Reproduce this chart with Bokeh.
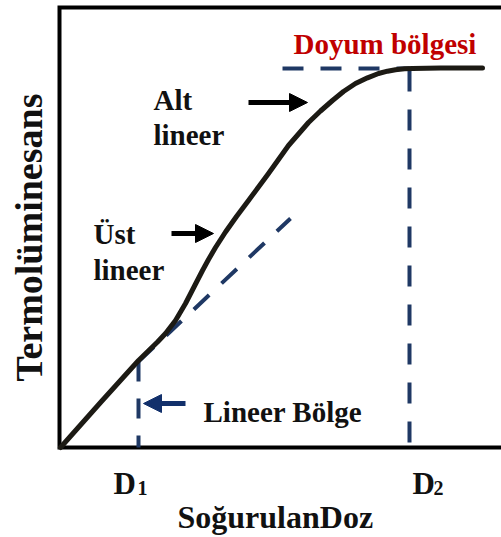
import numpy as np
from bokeh.plotting import figure
from bokeh.models import Range1d, Arrow, NormalHead
from bokeh.core.properties import value
from bokeh.embed import file_html
from bokeh.resources import INLINE

# Thermoluminescence response versus absorbed dose (arbitrary units)
dose = [0.0, 4.0, 7.8, 8.8, 9.7, 10.5, 11.5, 12.5, 13.4, 14.2, 14.8, 15.5,
        16.5, 17.6, 18.8, 19.8, 20.8, 21.8, 22.8, 23.8, 24.8, 26.0, 27.2,
        28.3, 29.5, 30.7, 31.8, 32.7, 33.5, 34.4, 35.2, 38.0, 42.2]
tl = [0.0, 4.5, 8.7, 9.68, 10.55, 11.4, 12.7, 14.4, 16.15, 17.7, 18.8,
      20.0, 21.55, 23.1, 24.7, 26.05, 27.4, 28.8, 30.2, 31.35, 32.5, 33.65,
      34.7, 35.6, 36.4, 36.97, 37.4, 37.63, 37.78, 37.87, 37.91, 37.95,
      37.95]

# Characteristic doses and response levels
d1 = 7.8
d2 = 34.9
tl_d1 = 8.6
tl_sat = 37.9

# Extrapolated linear response and saturation reference
linear_ext_dose = [7.8, 23.0]
linear_ext_tl = [8.6, 22.9]
sat_ref_dose = [22.2, 34.9]

SERIF = value("Liberation Serif")
NAVY = "#1F3864"
INK = "#111111"

p = figure(width=501, height=537, x_range=Range1d(-6.0, 44.1),
           y_range=Range1d(-9.0, 44.7), min_border=0,
           toolbar_location=None, output_backend="svg")
p.axis.visible = False
p.grid.visible = False
p.outline_line_color = None
p.background_fill_color = "white"

# Open frame: top, left and bottom edges
p.line([44.3, -0.1, -0.1, 44.3], [44.0, 44.0, 0.0, 0.0],
       line_width=4, line_color="black", line_join="miter")

# Reference dashed lines
p.line(linear_ext_dose, linear_ext_tl, line_width=4, line_color=NAVY,
       line_dash="21 17")
p.line([d1, d1], [tl_d1, 0.0], line_width=4, line_color=NAVY,
       line_dash="20 17")
p.line(sat_ref_dose, [tl_sat, tl_sat], line_width=4, line_color=NAVY,
       line_dash="21 17")
p.line([d2, d2], [tl_sat - 0.2, 0.0], line_width=4, line_color=NAVY,
       line_dash="21 18")

# Dose-response curve
p.line(dose, tl, line_width=5, line_color="#1c1a14", line_join="round",
       line_cap="round")

bold = dict(text_font=SERIF, text_font_style="bold",
            text_baseline="alphabetic", text_align="left")

# Region annotations
p.text(x=[23.3], y=[40.4], text=["Doyum bölgesi"], text_color="#C00000",
       text_font_size="29px", **bold)
p.text(x=[9.3, 9.3, 3.3, 3.3, 14.3], y=[34.8, 31.3, 21.4, 17.8, 3.6],
       text=["Alt", "lineer", "Üst", "lineer", "Lineer Bölge"],
       text_color=INK, text_font_size="29px", **bold)

# Dose markers with subscripts
p.text(x=[d1 - 2.5, d2 + 0.3], y=[-3.6, -3.6], text=["D", "D"],
       text_color=INK, text_font_size="31px", **bold)
p.text(x=[d1 - 0.1, d2 + 2.4], y=[-4.0, -4.0], text=["1", "2"],
       text_color=INK, text_font_size="20px", **bold)

# Axis titles
p.text(x=[11.7], y=[-6.9], text=["SoğurulanDoz"], text_color=INK,
       text_font_size="32px", **bold)
p.text(x=[-3.2], y=[21.0], text=["Termolüminesans"], angle=np.pi / 2,
       text_color=INK, text_font_size="38px", text_font=SERIF,
       text_font_style="bold", text_baseline="alphabetic",
       text_align="center")

# Pointer arrows
for xs, xe, yy, col in [(18.8, 24.7, 34.5, "black"),
                        (11.1, 15.3, 21.4, "black"),
                        (12.5, 8.3, 4.4, "#12306b")]:
    p.add_layout(Arrow(x_start=xs, y_start=yy, x_end=xe, y_end=yy,
                       line_width=5, line_color=col,
                       end=NormalHead(size=18, fill_color=col,
                                      line_color=col, line_width=1)))

open("out.html", "w").write(file_html(p, INLINE))
